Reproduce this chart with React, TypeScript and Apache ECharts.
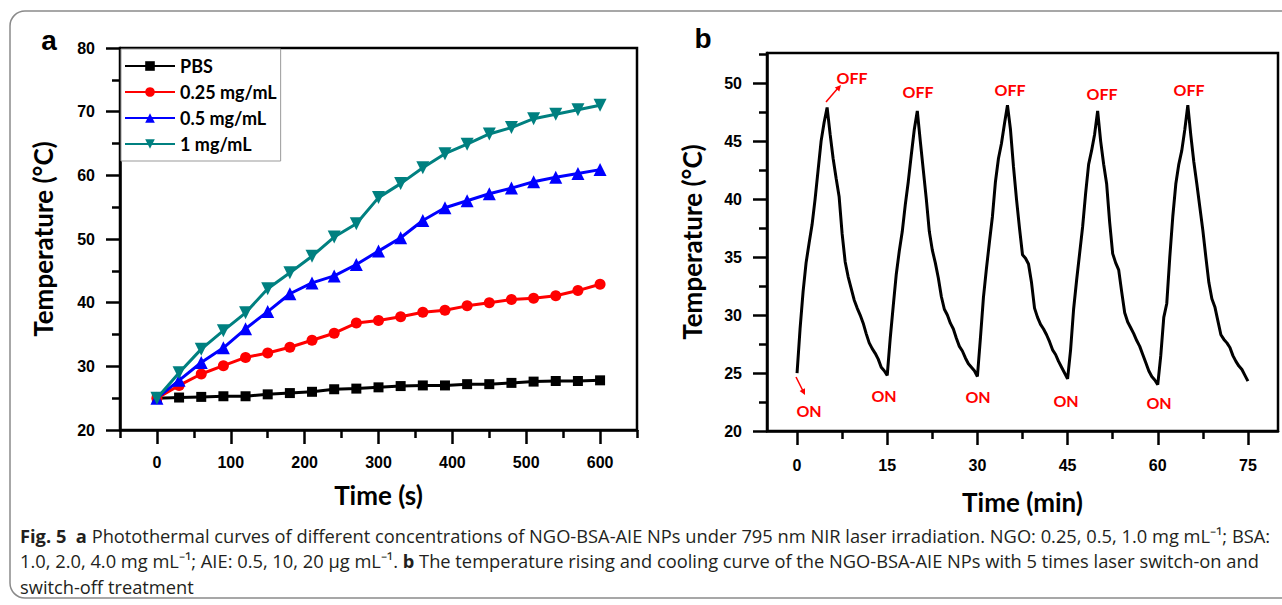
import React, { useEffect, useRef } from "react";
import * as echarts from "echarts";

// ---------- Panel a data ----------
const timeSec = [0, 30, 60, 90, 120, 150, 180, 210, 240, 270, 300, 330, 360, 390, 420, 450, 480, 510, 540, 570, 600];
const pbs = [25.0, 25.1, 25.2, 25.3, 25.3, 25.6, 25.8, 26.0, 26.4, 26.5, 26.7, 26.9, 27.0, 27.0, 27.2, 27.2, 27.4, 27.6, 27.7, 27.7, 27.8];
const conc025 = [25.0, 27.0, 28.8, 30.1, 31.4, 32.1, 33.0, 34.1, 35.2, 36.8, 37.2, 37.8, 38.5, 38.8, 39.5, 40.0, 40.5, 40.7, 41.1, 41.9, 42.9];
const conc05 = [25.0, 27.8, 30.6, 32.9, 35.9, 38.6, 41.4, 43.1, 44.2, 46.0, 48.1, 50.2, 52.9, 54.9, 56.0, 57.1, 58.0, 59.0, 59.7, 60.3, 60.9];
const conc1 = [25.0, 29.0, 32.7, 35.6, 38.4, 42.2, 44.7, 47.3, 50.3, 52.4, 56.5, 58.7, 61.2, 63.4, 64.9, 66.5, 67.5, 68.9, 69.6, 70.3, 71.0];
const seriesNamesA = ["PBS", "0.25 mg/mL", "0.5 mg/mL", "1 mg/mL"];
const xTicksA = [0, 100, 200, 300, 400, 500, 600];
const xMinorA = [-50, 50, 150, 250, 350, 450, 550, 650];

// ---------- Panel b data ----------
const cycleTime = [
  0, 0.5, 1, 1.5, 2, 2.5, 3, 3.5, 4, 4.5, 5, 5.5, 6, 6.5, 7, 7.5, 8, 8.5, 9, 9.5, 10, 10.5, 11, 11.5, 12, 12.5, 13, 13.5, 14, 14.5, 15,
  15.5, 16, 16.5, 17, 17.5, 18, 18.5, 19, 19.5, 20, 20.5, 21, 21.5, 22, 22.5, 23, 23.5, 24, 24.5, 25, 25.5, 26, 26.5, 27, 27.5, 28, 28.5, 29, 29.5, 30,
  30.5, 31, 31.5, 32, 32.5, 33, 33.5, 34, 34.5, 35, 35.5, 36, 36.5, 37, 37.5, 38, 38.5, 39, 39.5, 40, 40.5, 41, 41.5, 42, 42.5, 43, 43.5, 44, 44.5, 45,
  45.5, 46, 46.5, 47, 47.5, 48, 48.5, 49, 49.5, 50, 50.5, 51, 51.5, 52, 52.5, 53, 53.5, 54, 54.5, 55, 55.5, 56, 56.5, 57, 57.5, 58, 58.5, 59, 59.5, 60,
  60.5, 61, 61.5, 62, 62.5, 63, 63.5, 64, 64.5, 65, 65.5, 66, 66.5, 67, 67.5, 68, 68.5, 69, 69.5, 70, 70.5, 71, 71.5, 72, 72.5, 73, 73.5, 74, 74.5, 75,
];
const cycleTemp = [
  25.0, 28.8, 32.0, 34.5, 36.2, 37.8, 40.0, 42.5, 45.0, 46.6, 47.9, 45.6, 43.5, 41.8, 40.2, 37.0, 34.6, 33.3, 32.3, 31.3, 30.6, 30.0, 29.3, 28.4, 27.6, 27.1, 26.7, 26.2, 25.5, 25.2, 24.8,
  28.0, 30.8, 33.5, 35.5, 37.2, 39.5, 41.5, 43.8, 46.0, 47.6, 45.0, 42.5, 40.0, 37.2, 35.6, 34.5, 33.2, 31.6, 30.5, 30.0, 29.3, 28.8, 28.0, 27.3, 26.9, 26.3, 25.8, 25.5, 25.2, 24.7,
  28.0, 31.5, 34.0, 36.3, 38.5, 41.5, 43.5, 44.8, 46.5, 48.1, 46.0, 42.8, 40.0, 37.5, 35.2, 34.9, 34.4, 32.8, 30.6, 29.8, 29.2, 28.8, 28.3, 27.7, 27.0, 26.6, 26.0, 25.5, 25.0, 24.5,
  27.0, 30.5, 33.0, 35.3, 37.6, 40.5, 43.0, 44.2, 45.6, 47.6, 45.0, 43.0, 41.3, 38.0, 35.3, 34.5, 33.9, 32.0, 30.2, 29.4, 28.9, 28.4, 27.8, 27.3, 26.6, 25.9, 25.2, 24.7, 24.4, 24.0,
  26.5, 29.8, 31.0, 35.0, 38.5, 41.3, 43.0, 44.2, 46.0, 48.1, 45.5, 43.2, 41.3, 39.3, 37.3, 35.0, 32.8, 31.4, 30.7, 29.5, 28.3, 27.9, 27.6, 27.2, 26.5, 26.0, 25.6, 25.3, 24.8, 24.3,
];
const xTicksB = [0, 15, 30, 45, 60, 75];
const xMinorB = [7.5, 22.5, 37.5, 52.5, 67.5];
const yTicksB = [20, 25, 30, 35, 40, 45, 50];
const yMinorB = [22.5, 27.5, 32.5, 37.5, 42.5, 47.5, 52.5];

const captionLines = [
  "{b|Fig. 5}  {b|a} Photothermal curves of different concentrations of NGO-BSA-AIE NPs under 795 nm NIR laser irradiation. NGO: 0.25, 0.5, 1.0 mg mL⁻¹; BSA:",
  "1.0, 2.0, 4.0 mg mL⁻¹; AIE: 0.5, 10, 20 μg mL⁻¹. {b|b} The temperature rising and cooling curve of the NGO-BSA-AIE NPs with 5 times laser switch-on and",
  "switch-off treatment",
];

export default function App() {
  const ref = useRef<HTMLDivElement>(null);
  useEffect(() => {
    document.body.style.margin = "0";
    const chart = echarts.init(ref.current!, null, { renderer: "svg" });
    const tickFont = { fontFamily: "'Liberation Sans', Arial, sans-serif", fontWeight: "bold" as const, fontSize: 16, color: "#000" };
    const titleFont = { fontFamily: "Lato, sans-serif", fontWeight: "bold" as const, fontSize: 26, color: "#000" };
    const axisLine = { show: true, onZero: false, lineStyle: { color: "#000", width: 2.5 } };
    const noLine = { show: false, onZero: false };
    const tickStyle = { color: "#000", width: 2.5 };
    const colors = ["#000000", "#ff0000", "#0000ff", "#008080"];
    const symbols = ["rect", "circle", "triangle", "triangle"];
    const sizes = [10, 11, 13, 13];
    const valsA = [pbs, conc025, conc05, conc1];
    const redText = { font: "bold 16px Lato, sans-serif", fill: "#ff0000", align: "center", verticalAlign: "middle" };

    const offPos = [[852, 77], [918, 91], [1010, 89], [1102, 93], [1189, 89]];
    const onPos = [[809, 410], [884, 395], [978, 396], [1066, 400], [1159, 402]];
    const captionFont = "'Open Sans', sans-serif";

    chart.setOption({
      animation: false,
      grid: [
        { left: 120, top: 48, width: 517, height: 382, show: true, borderColor: "#000", borderWidth: 2.5, backgroundColor: "transparent" },
        { left: 767, top: 53, width: 511, height: 378, show: true, borderColor: "#000", borderWidth: 2.5, backgroundColor: "transparent" },
      ],
      legend: {
        show: true,
        orient: "vertical",
        left: 121,
        top: 49,
        data: seriesNamesA,
        backgroundColor: "#fff",
        borderColor: "#999",
        borderWidth: 1,
        padding: [8, 4, 8, 3],
        itemGap: 8,
        itemWidth: 50,
        itemHeight: 12,
        textStyle: { fontFamily: "Lato, sans-serif", fontWeight: "bold", fontSize: 18, color: "#000", lineHeight: 18 },
      },
      xAxis: [
        {
          gridIndex: 0, type: "value", min: -50, max: 650, position: "bottom",
          axisLine, splitLine: { show: false },
          axisTick: { show: true, customValues: xTicksA, length: 14, lineStyle: tickStyle },
          axisLabel: { customValues: xTicksA, margin: 24, ...tickFont },
          name: "Time (s)", nameLocation: "middle", nameGap: 52, nameTextStyle: titleFont,
        },
        {
          gridIndex: 1, type: "value", min: -5, max: 80, position: "bottom",
          axisLine, splitLine: { show: false },
          axisTick: { show: true, customValues: xTicksB, length: 14, lineStyle: tickStyle },
          axisLabel: { customValues: xTicksB, margin: 26, ...tickFont },
          name: "Time (min)", nameLocation: "middle", nameGap: 58, nameTextStyle: titleFont,
        },
        {
          gridIndex: 0, type: "value", min: -50, max: 650, position: "bottom",
          axisLine: noLine, splitLine: { show: false },
          axisTick: { show: true, customValues: xMinorA, length: 8, lineStyle: tickStyle },
          axisLabel: { show: false },
        },
        {
          gridIndex: 1, type: "value", min: -5, max: 80, position: "bottom",
          axisLine: noLine, splitLine: { show: false },
          axisTick: { show: true, customValues: xMinorB, length: 8, lineStyle: tickStyle },
          axisLabel: { show: false },
        },
      ],
      yAxis: [
        {
          gridIndex: 0, type: "value", min: 20, max: 80, interval: 10, position: "left",
          axisLine, splitLine: { show: false },
          axisTick: { show: true, length: 14, lineStyle: tickStyle },
          minorTick: { show: true, splitNumber: 2, length: 8, lineStyle: tickStyle },
          axisLabel: { margin: 25, ...tickFont },
          name: "Temperature (°C)", nameLocation: "middle", nameGap: 64, nameTextStyle: titleFont,
        },
        {
          gridIndex: 1, type: "value", min: 20, max: 52.6, position: "left",
          axisLine, splitLine: { show: false },
          axisTick: { show: true, customValues: yTicksB, length: 14, lineStyle: tickStyle },
          axisLabel: { customValues: yTicksB, margin: 25, ...tickFont },
          name: "Temperature (°C)", nameLocation: "middle", nameGap: 62, nameTextStyle: titleFont,
        },
        {
          gridIndex: 1, type: "value", min: 20, max: 52.6, position: "left",
          axisLine: noLine, splitLine: { show: false },
          axisTick: { show: true, customValues: yMinorB, length: 8, lineStyle: tickStyle },
          axisLabel: { show: false },
        },
      ],
      series: [
        ...seriesNamesA.map((name, k) => ({
          type: "line",
          name,
          xAxisIndex: 0,
          yAxisIndex: 0,
          data: timeSec.map((t, i) => [t, valsA[k][i]]),
          symbol: symbols[k],
          symbolSize: sizes[k],
          symbolRotate: k === 3 ? 180 : 0,
          showAllSymbol: true,
          lineStyle: { color: colors[k], width: 3 },
          itemStyle: { color: colors[k] },
          z: 2 + k,
        })),
        {
          type: "line",
          name: "cycle",
          xAxisIndex: 1,
          yAxisIndex: 1,
          data: cycleTime.map((t, i) => [t, cycleTemp[i]]),
          showSymbol: false,
          symbol: "none",
          lineStyle: { color: "#000", width: 3 },
        },
      ],
      graphic: [
        {
          type: "rect", silent: true, z: -10,
          shape: { x: 10, y: 11, width: 1290, height: 587, r: 15 },
          style: { fill: "none", stroke: "#8a8a8a", lineWidth: 1.5 },
        },
        { type: "text", x: 49, y: 40, style: { text: "a", font: "bold 28px 'Liberation Sans', Arial, sans-serif", fill: "#000", align: "center", verticalAlign: "middle" } },
        { type: "text", x: 703, y: 38, style: { text: "b", font: "bold 28px 'Liberation Sans', Arial, sans-serif", fill: "#000", align: "center", verticalAlign: "middle" } },
        ...offPos.map(([x, y]) => ({ type: "text", x, y, style: { text: "OFF", ...redText } })),
        ...onPos.map(([x, y]) => ({ type: "text", x, y, style: { text: "ON", ...redText } })),
        { type: "line", shape: { x1: 826, y1: 102, x2: 838, y2: 88 }, style: { stroke: "#ff0000", lineWidth: 1.5 } },
        { type: "polygon", shape: { points: [[841, 85], [839.3, 91.5], [834.8, 87.5]] }, style: { fill: "#ff0000" } },
        { type: "line", shape: { x1: 796, y1: 377, x2: 803, y2: 391 }, style: { stroke: "#ff0000", lineWidth: 1.5 } },
        { type: "polygon", shape: { points: [[805, 395], [805, 388.3], [799.6, 390.9]] }, style: { fill: "#ff0000" } },
        ...captionLines.map((line, i) => ({
          type: "text",
          x: 20,
          y: [535, 560, 586][i],
          style: {
            text: line,
            fontFamily: captionFont,
            fontSize: 18.3,
            fill: "#231f20",
            verticalAlign: "middle",
            align: "left",
            rich: {
              b: { fontFamily: captionFont, fontSize: 18.3, fontWeight: "bold", fill: "#231f20" },
            },
          },
        })),
      ],
    });
    return () => chart.dispose();
  }, []);
  return <div ref={ref} style={{ width: 1282, height: 605 }} />;
}
